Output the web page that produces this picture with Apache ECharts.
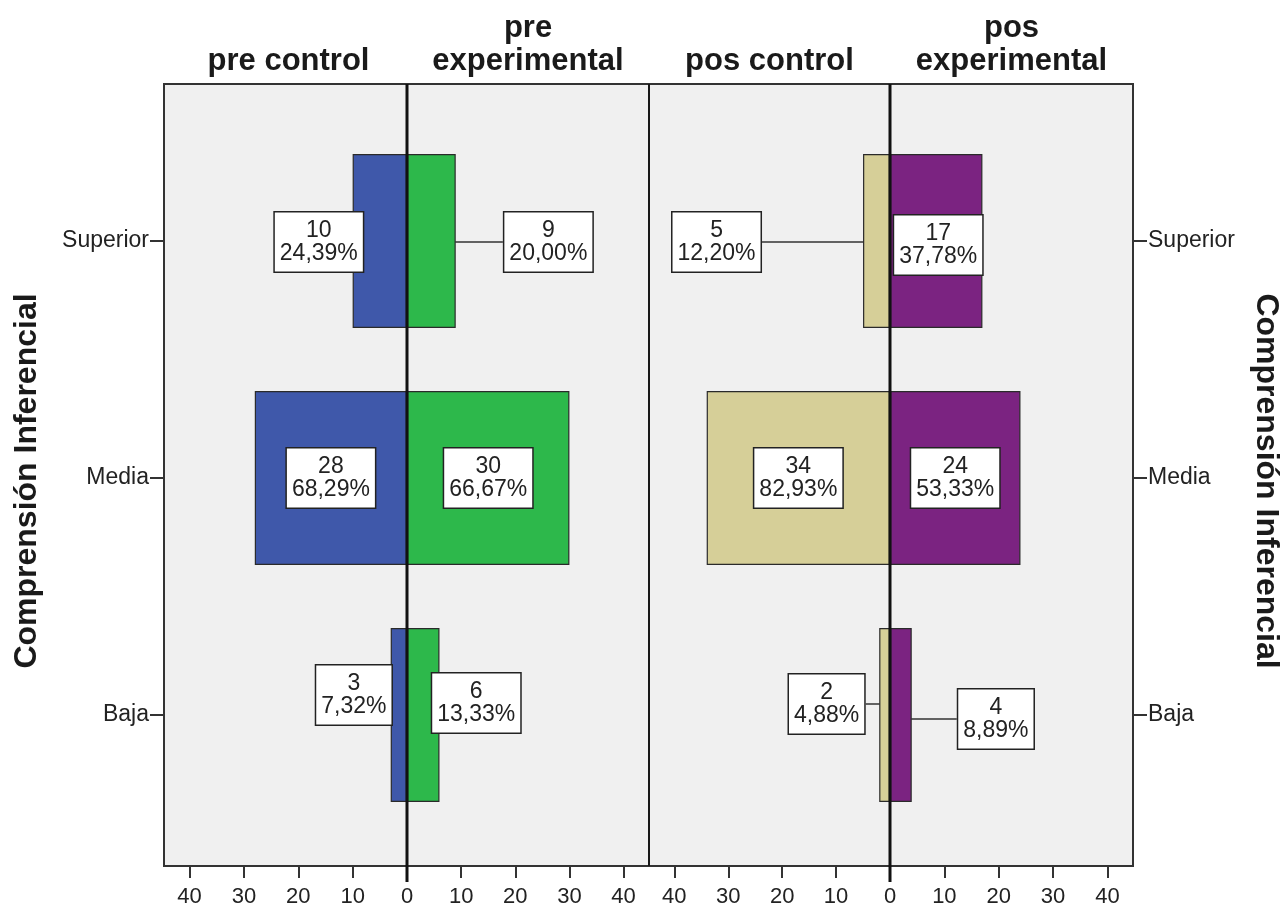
<!DOCTYPE html>
<html>
<head>
<meta charset="utf-8">
<script src="https://cdn.jsdelivr.net/npm/echarts@6/dist/echarts.min.js"></script>
<style>
html,body{margin:0;padding:0;background:#fff;}
#chart{width:1288px;height:908px;}
</style>
</head>
<body>
<div id="chart"></div>
<script>
// ---- data ----
const categories = ['Baja', 'Media', 'Superior'];
const panelTitles = ['pre control', 'pre\nexperimental', 'pos control', 'pos\nexperimental'];
const yAxisTitle = 'Comprensión Inferencial';
const preControl = [3, 28, 10];
const preControlPct = ['7,32', '68,29', '24,39'];
const preExperimental = [6, 30, 9];
const preExperimentalPct = ['13,33', '66,67', '20,00'];
const posControl = [2, 34, 5];
const posControlPct = ['4,88', '82,93', '12,20'];
const posExperimental = [4, 24, 17];
const posExperimentalPct = ['8,89', '53,33', '37,78'];
const xTickValues = [0, 10, 20, 30, 40];
const axisMax = 44.7;

// ---- layout (pixels) ----
const FR = { top: 84, bottom: 866, x0: 164, z1: 407, mid: 649, z2: 890, x1: 1133 };
const gridTop = 122.5, gridHeight = 711;
// label offsets relative to bar centre [dx, dy], order Baja, Media, Superior
const labelOffsets = [
  [[-45, -20], [0, 0], [-61, 1]],
  [[53, -12], [0, 0], [117, 1]],
  [[-58, -11], [0, 0], [-160, 1]],
  [[95, 4], [0, 0], [2, 4]]
];
const colors = ['#3f58aa', '#2db84b', '#d6cf98', '#7b2381'];
const FONT = '"Liberation Sans", Arial, sans-serif';

const halves = [
  { left: FR.x0, right: FR.z1, inverse: true, data: preControl, pct: preControlPct, showZero: false },
  { left: FR.z1, right: FR.mid, inverse: false, data: preExperimental, pct: preExperimentalPct, showZero: true },
  { left: FR.mid, right: FR.z2, inverse: true, data: posControl, pct: posControlPct, showZero: false },
  { left: FR.z2, right: FR.x1, inverse: false, data: posExperimental, pct: posExperimentalPct, showZero: true }
];

const grids = [], xAxes = [], yAxes = [], series = [];
halves.forEach((h, i) => {
  grids.push({ left: h.left, width: h.right - h.left, top: gridTop, height: gridHeight, containLabel: false });
  const tickVals = h.showZero ? xTickValues : xTickValues.filter(v => v !== 0);
  xAxes.push({
    type: 'value', gridIndex: i, min: 0, max: axisMax, interval: 10, inverse: h.inverse,
    offset: FR.bottom - (gridTop + gridHeight),
    axisLine: { show: false, onZero: false },
    splitLine: { show: false },
    axisTick: { show: true, length: 12, customValues: xTickValues, lineStyle: { color: '#333', width: 2 } },
    axisLabel: { customValues: tickVals, color: '#222', fontSize: 22, fontFamily: FONT, margin: 20 }
  });
  const showCat = (i === 0 || i === 3);
  yAxes.push({
    type: 'category', gridIndex: i, data: categories,
    position: i === 3 ? 'right' : 'left',
    z: 5,
    axisLine: { show: false, onZero: false },
    axisTick: { show: showCat, alignWithLabel: true, length: 14, lineStyle: { color: '#333', width: 2 } },
    axisLabel: { show: showCat, color: '#222', fontSize: 23, fontFamily: FONT, margin: 15 },
    splitLine: { show: false }
  });
  series.push({
    type: 'bar', xAxisIndex: i, yAxisIndex: i, data: h.data, barWidth: 174,
    itemStyle: { color: colors[i], borderColor: '#2a2a2a', borderWidth: 1.2 },
    z: 3,
    label: {
      show: true, position: 'inside',
      formatter: p => p.value + '\n' + h.pct[p.dataIndex] + '%',
      color: '#222', fontSize: 23, fontFamily: FONT, lineHeight: 23, align: 'center',
      backgroundColor: '#ffffff', borderColor: '#222', borderWidth: 1.5, padding: [7, 5, 6, 5]
    },
    labelLine: { show: true, lineStyle: { color: '#333', width: 1.5 } },
    labelLayout: p => ({ dx: labelOffsets[i][p.dataIndex][0], dy: labelOffsets[i][p.dataIndex][1] })
  });
});

const graphics = [
  { type: 'rect', z: -10, shape: { x: FR.x0, y: FR.top, width: FR.mid - FR.x0, height: FR.bottom - FR.top },
    style: { fill: '#f0f0f0', stroke: '#333', lineWidth: 2 } },
  { type: 'rect', z: -10, shape: { x: FR.mid, y: FR.top, width: FR.x1 - FR.mid, height: FR.bottom - FR.top },
    style: { fill: '#f0f0f0', stroke: '#333', lineWidth: 2 } },
  { type: 'line', z: 50, shape: { x1: FR.z1, y1: FR.top, x2: FR.z1, y2: FR.bottom + 16 }, style: { stroke: '#111', lineWidth: 3 } },
  { type: 'line', z: 50, shape: { x1: FR.z2, y1: FR.top, x2: FR.z2, y2: FR.bottom + 16 }, style: { stroke: '#111', lineWidth: 3 } },
  { type: 'line', z: 50, shape: { x1: FR.mid, y1: FR.top, x2: FR.mid, y2: FR.bottom }, style: { stroke: '#111', lineWidth: 1.5 } }
];
const titleCenters = [(FR.x0 + FR.z1) / 2 + 3, (FR.z1 + FR.mid) / 2, (FR.mid + FR.z2) / 2, (FR.z2 + FR.x1) / 2];
panelTitles.forEach((t, i) => {
  graphics.push({
    type: 'text', z: 60, x: titleCenters[i], y: 78,
    style: { text: t, fill: '#1a1a1a', font: 'bold 31px ' + FONT, textAlign: 'center', textVerticalAlign: 'bottom', lineHeight: 33 }
  });
});
graphics.push({ type: 'text', z: 60, x: 27, y: 481, rotation: Math.PI / 2,
  style: { text: yAxisTitle, fill: '#1a1a1a', font: 'bold 32px ' + FONT, textAlign: 'center', textVerticalAlign: 'middle' } });
graphics.push({ type: 'text', z: 60, x: 1266, y: 481, rotation: -Math.PI / 2,
  style: { text: yAxisTitle, fill: '#1a1a1a', font: 'bold 32px ' + FONT, textAlign: 'center', textVerticalAlign: 'middle' } });

const chart = echarts.init(document.getElementById('chart'), null, { renderer: 'canvas' });
chart.setOption({
  animation: false,
  backgroundColor: '#ffffff',
  grid: grids, xAxis: xAxes, yAxis: yAxes, series: series,
  graphic: graphics
});
</script>
</body>
</html>
